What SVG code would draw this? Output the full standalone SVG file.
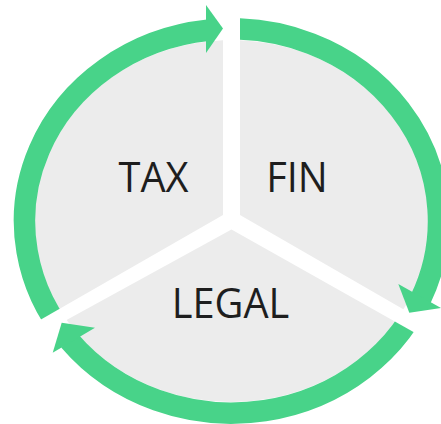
<svg xmlns="http://www.w3.org/2000/svg" width="441" height="424" viewBox="0 0 441 424">
  <style>
    .sector { fill: #ececec; }
    .label { font-family: "Open Sans", "Noto Sans", "Liberation Sans", sans-serif; font-size: 41px; fill: #1e1e1e; text-anchor: middle; }
    .ring { fill: none; stroke: #48d389; stroke-width: 21.5; stroke-linecap: butt; }
    .head { fill: #48d389; }
  </style>
  <defs>
    <ellipse id="disc" cx="231.5" cy="221" rx="197" ry="181"/>
    <clipPath id="clipTax"><polygon points="223,215 223,-10 -40,-10 -40,366"/></clipPath>
    <clipPath id="clipFin"><polygon points="240,215 240,-10 500,-10 500,365"/></clipPath>
    <clipPath id="clipLegal"><polygon points="231.5,229.5 500,380.7 500,500 -40,500 -40,378.5"/></clipPath>
  </defs>
  <rect width="441" height="424" fill="#ffffff"/>
  <g id="tax">
    <use href="#disc" class="sector" clip-path="url(#clipTax)"/>
    <text class="label" transform="translate(153.5,192) scale(0.97,1.04)">TAX</text>
  </g>
  <g id="fin">
    <use href="#disc" class="sector" clip-path="url(#clipFin)"/>
    <text class="label" transform="translate(297,192) scale(0.97,1.04)">FIN</text>
  </g>
  <g id="legal">
    <use href="#disc" class="sector" clip-path="url(#clipLegal)"/>
    <text class="label" transform="translate(230.5,318) scale(0.97,1.02)">LEGAL</text>
  </g>
  <g id="connectors">
    <path class="ring" clip-path="url(#clipTax)" d="M72.93,344.42 A207,192 0 0,1 208,30.24"/>
    <polygon class="head" points="206,5 223,28.5 206,53"/>
    <path class="ring" clip-path="url(#clipFin)" d="M213.46,29.73 A207,192 0 0,1 420.6,299.1"/>
    <polygon class="head" points="398.3,284 409.3,312.7 441,308"/>
    <path class="ring" clip-path="url(#clipLegal)" d="M426.02,286.67 A207,192 0 0,1 69.36,340.5"/>
    <polygon class="head" points="52.7,352.7 61.7,322.7 95,327.7"/>
  </g>
</svg>
